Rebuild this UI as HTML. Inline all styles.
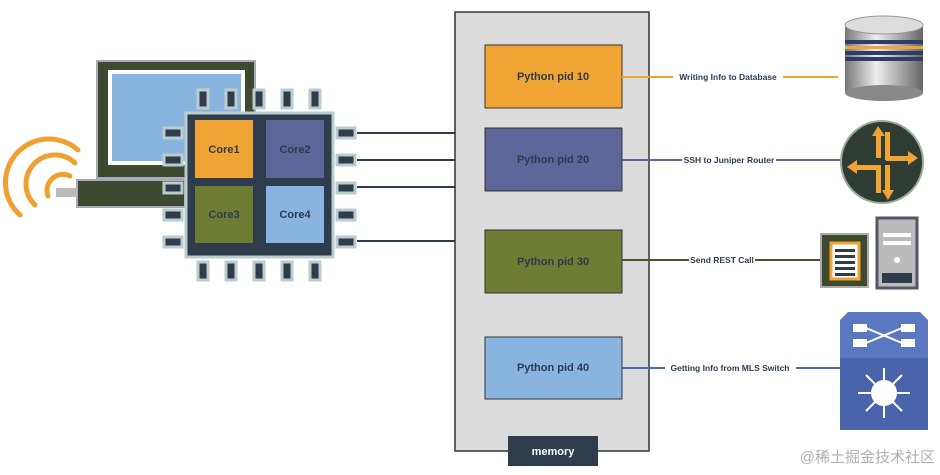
<!DOCTYPE html>
<html><head><meta charset="utf-8"><style>
html,body{margin:0;padding:0;background:#fff;}
svg{display:block;}
text{font-family:"Liberation Sans","Noto Sans CJK SC",sans-serif;font-weight:bold;}
</style></head><body>
<svg width="940" height="475" viewBox="0 0 940 475" xmlns="http://www.w3.org/2000/svg">
<!-- wifi -->
<g fill="none" stroke="#f0a030" stroke-width="5" stroke-linecap="round">
<path d="M78,150 A40,40 0 0 0 20,215"/>
<path d="M75,163 A28,28 0 0 0 35,205"/>
<path d="M70,176 A16,16 0 0 0 48,196"/>
</g>
<!-- laptop -->
<rect x="97" y="61" width="158" height="117" fill="#3d4a30" stroke="#aab" stroke-width="2"/>
<rect x="108" y="70" width="137" height="95" fill="#fff"/>
<rect x="112" y="74" width="129" height="87" fill="#8ab4e0"/>
<rect x="77" y="180" width="108" height="27" fill="#3d4a30" stroke="#aab" stroke-width="2"/>
<rect x="56" y="188" width="21" height="9" fill="#bbb"/>
<!-- chip pins -->
<g fill="#2e3c4c" stroke="#bcc" stroke-width="3">
<rect x="198" y="90" width="10" height="18"/><rect x="226" y="90" width="10" height="18"/><rect x="254" y="90" width="10" height="18"/><rect x="282" y="90" width="10" height="18"/><rect x="310" y="90" width="10" height="18"/>
<rect x="198" y="262" width="10" height="18"/><rect x="226" y="262" width="10" height="18"/><rect x="254" y="262" width="10" height="18"/><rect x="282" y="262" width="10" height="18"/><rect x="310" y="262" width="10" height="18"/>
<rect x="164" y="128" width="18" height="10"/><rect x="164" y="155" width="18" height="10"/><rect x="164" y="183" width="18" height="10"/><rect x="164" y="210" width="18" height="10"/><rect x="164" y="237" width="18" height="10"/>
<rect x="337" y="128" width="18" height="10"/><rect x="337" y="155" width="18" height="10"/><rect x="337" y="183" width="18" height="10"/><rect x="337" y="210" width="18" height="10"/><rect x="337" y="237" width="18" height="10"/>
</g>
<rect x="186" y="113" width="147" height="144" fill="#2e3c4c" stroke="#bcc" stroke-width="3"/>
<rect x="195" y="120" width="58" height="58" fill="#f0a434"/>
<rect x="266" y="120" width="58" height="58" fill="#5e6598"/>
<rect x="195" y="186" width="58" height="57" fill="#6e7c34"/>
<rect x="266" y="186" width="58" height="57" fill="#8ab4e0"/>
<g font-size="11" fill="#2e3c4c" text-anchor="middle">
<text x="224" y="153">Core1</text><text x="295" y="153">Core2</text>
<text x="224" y="218">Core3</text><text x="295" y="218">Core4</text>
</g>
<!-- chip to memory lines -->
<g stroke="#2e3c4c" stroke-width="2">
<line x1="357" y1="133" x2="456" y2="133"/><line x1="357" y1="160" x2="456" y2="160"/>
<line x1="357" y1="187" x2="456" y2="187"/><line x1="357" y1="241" x2="456" y2="241"/>
</g>
<!-- memory -->
<rect x="455" y="12" width="194" height="439" fill="#dcdcdc" stroke="#333" stroke-width="1.5"/>
<rect x="508" y="436" width="90" height="30" fill="#2e3c4c"/>
<text x="553" y="455" font-size="11" fill="#fff" text-anchor="middle">memory</text>
<rect x="485" y="45" width="137" height="63" fill="#f0a434" stroke="#333"/>
<rect x="485" y="128" width="137" height="63" fill="#5e6598" stroke="#333"/>
<rect x="485" y="230" width="137" height="63" fill="#6e7c34" stroke="#333"/>
<rect x="485" y="337" width="137" height="62" fill="#8ab4e0" stroke="#333"/>
<g font-size="11" fill="#2e3c4c" text-anchor="middle">
<text x="553" y="80">Python pid 10</text><text x="553" y="163">Python pid 20</text>
<text x="553" y="265">Python pid 30</text><text x="553" y="371">Python pid 40</text>
</g>
<!-- connectors -->
<line x1="622" y1="77" x2="838" y2="77" stroke="#f0a434" stroke-width="2"/>
<line x1="622" y1="160" x2="842" y2="160" stroke="#5e6598" stroke-width="2"/>
<line x1="622" y1="260" x2="822" y2="260" stroke="#4a5424" stroke-width="2"/>
<line x1="622" y1="368" x2="842" y2="368" stroke="#4a6aa8" stroke-width="2"/>
<g font-size="8.5" fill="#2e3c4c" text-anchor="middle">
<rect x="673" y="70" width="110" height="12" fill="#fff"/><text x="728" y="80">Writing Info to Database</text>
<rect x="682" y="153" width="94" height="12" fill="#fff"/><text x="729" y="163">SSH to Juniper Router</text>
<rect x="689" y="253" width="66" height="12" fill="#fff"/><text x="722" y="263">Send REST Call</text>
<rect x="665" y="361" width="131" height="12" fill="#fff"/><text x="730" y="371">Getting Info from MLS Switch</text>
</g>
<!-- database -->
<defs><linearGradient id="cyl" x1="0" x2="1"><stop offset="0" stop-color="#777"/><stop offset=".4" stop-color="#eee"/><stop offset="1" stop-color="#666"/></linearGradient></defs>
<rect x="845" y="25" width="78" height="68" fill="url(#cyl)"/>
<ellipse cx="884" cy="93" rx="39" ry="8" fill="#888"/>
<ellipse cx="884" cy="25" rx="39" ry="9" fill="#ddd" stroke="#999"/>
<rect x="845" y="40" width="78" height="4" fill="#2e3c6c"/><rect x="845" y="46" width="78" height="3" fill="#f0a434"/>
<rect x="845" y="51" width="78" height="4" fill="#2e3c6c"/><rect x="845" y="57" width="78" height="4" fill="#2e3c6c"/>
<!-- router -->
<circle cx="882" cy="162" r="41" fill="#2e3c34" stroke="#9a9" stroke-width="2"/>
<g fill="#f0a434">
<rect x="876" y="132" width="5" height="26"/><polygon points="872,136 878,126 885,136"/>
<rect x="885" y="132" width="5" height="28"/>
<rect x="886" y="156" width="26" height="5"/><polygon points="908,151 918,158 908,165"/>
<rect x="852" y="165" width="28" height="5"/><polygon points="857,160 847,167 857,174"/>
<rect x="885" y="165" width="5" height="28"/><polygon points="882,190 888,200 894,190"/>
<rect x="876" y="165" width="5" height="28"/>
</g>
<!-- doc + server -->
<rect x="821" y="234" width="47" height="53" fill="#3d4a30" stroke="#aaa" stroke-width="2"/>
<rect x="831" y="243" width="28" height="36" fill="#fff" stroke="#f0a434" stroke-width="3"/>
<g fill="#2e3c4c"><rect x="835" y="249" width="20" height="3"/><rect x="835" y="255" width="20" height="3"/><rect x="835" y="261" width="20" height="3"/><rect x="835" y="267" width="20" height="3"/><rect x="835" y="273" width="20" height="3"/></g>
<rect x="877" y="218" width="40" height="70" fill="#bbb" stroke="#556" stroke-width="3"/>
<rect x="883" y="233" width="28" height="4" fill="#fff"/><rect x="883" y="241" width="28" height="4" fill="#fff"/>
<circle cx="897" cy="260" r="3" fill="#fff"/><rect x="882" y="273" width="30" height="10" fill="#2e3c4c"/>
<!-- switch -->
<polygon points="848,312 920,312 928,320 928,358 840,358 840,320" fill="#5a78c0"/>
<rect x="840" y="358" width="88" height="72" fill="#4a64ac"/>
<g stroke="#fff" stroke-width="2" fill="#fff">
<rect x="854" y="325" width="12" height="6"/><rect x="902" y="325" width="12" height="6"/>
<rect x="854" y="340" width="12" height="6"/><rect x="902" y="340" width="12" height="6"/>
<line x1="866" y1="328" x2="902" y2="343"/><line x1="866" y1="343" x2="902" y2="328"/>
<circle cx="884" cy="393" r="12"/>
<line x1="884" y1="393" x2="884" y2="368"/><line x1="884" y1="393" x2="884" y2="418"/>
<line x1="884" y1="393" x2="858" y2="393"/><line x1="884" y1="393" x2="910" y2="393"/>
<line x1="884" y1="393" x2="866" y2="375"/><line x1="884" y1="393" x2="902" y2="375"/>
<line x1="884" y1="393" x2="866" y2="411"/><line x1="884" y1="393" x2="902" y2="411"/>
</g>
<text x="935" y="462" font-size="15" font-weight="normal" fill="#b0b0b0" text-anchor="end" style="font-weight:normal">@稀土掘金技术社区</text>
</svg>
</body></html>
